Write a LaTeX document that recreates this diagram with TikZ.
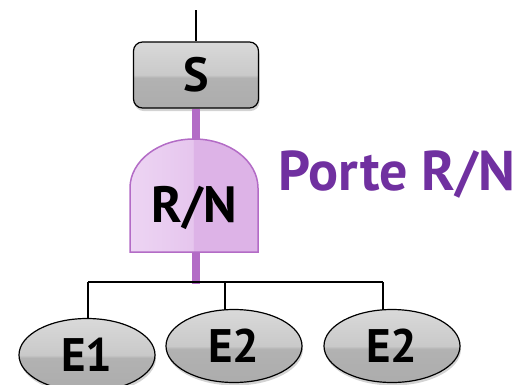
\documentclass[tikz,border=0pt]{standalone}
\usepackage{fontspec}
\setsansfont{PT Sans}
\usepackage{tikz}
\usetikzlibrary{positioning,calc,shapes.geometric,shadows}

\definecolor{portepurple}{HTML}{7030A0}
\definecolor{stempurple}{HTML}{B36CC6}
\definecolor{gatelight}{HTML}{F4E4F8}
\definecolor{gatemid}{HTML}{E6C6EE}
\definecolor{gatedark}{HTML}{DDB3E7}
\definecolor{glosstop}{HTML}{EAEAEA}
\definecolor{glossmid}{HTML}{C9C9C9}
\definecolor{glosslow}{HTML}{B2B2B2}
\definecolor{glossbot}{HTML}{A6A6A6}

\pgfdeclareverticalshading{glossgray}{100bp}{color(0bp)=(glossbot); color(48bp)=(glosslow); color(50bp)=(glossmid); color(100bp)=(glosstop)}
\pgfdeclarehorizontalshading{glosspurple}{100bp}{color(0bp)=(gatelight); color(49.5bp)=(gatemid); color(50bp)=(gatedark); color(100bp)=(gatedark)}

\begin{document}
\begin{tikzpicture}[x=1pt,y=-1pt,
			box/.style={rectangle,rounded corners=9pt,draw=black,line width=1.2pt,shading=glossgray,
				minimum width=125pt,minimum height=66pt,font=\sffamily\bfseries\fontsize{48}{48}\selectfont,
				drop shadow={shadow xshift=1pt,shadow yshift=-3pt,opacity=0.35}},
			oval/.style={ellipse,draw=black,line width=1.2pt,shading=glossgray,inner sep=0pt,
				minimum width=136pt,minimum height=73pt,font=\sffamily\bfseries\fontsize{47}{47}\selectfont,
				drop shadow={shadow xshift=1pt,shadow yshift=-3pt,opacity=0.35}},
			stem/.style={stempurple,line width=8pt},
			wire/.style={black,line width=1.2pt}]
		\useasboundingbox (0,0) rectangle (517,384);
		% gate
		\draw [draw=stempurple,line width=1.5pt,shading=glosspurple]
			(130,252) -- (130,188) arc[start angle=180,end angle=0,x radius=64pt,y radius=49pt] -- (258,252) -- cycle;
		\path 	(196,75) 	node 	(s) [box] {S}
		        (194,208) 	node 	(rn) [font=\sffamily\bfseries\fontsize{51}{51}\selectfont] {R/N}
		        (397,174) 	node 	(porte) [portepurple,font=\sffamily\bfseries\fontsize{56}{56}\selectfont] {Porte R/N}
		        (87,355) 	node 	(e1) [oval] {E1}
		        (234,346) 	node 	(e2) [oval] {E2}
		        (392,346) 	node 	(e3) [oval] {E2};
		\coordinate (top) at (196,10);
		\coordinate (gtop) at (196,139);
		\coordinate (gbot) at (196,252);
		\coordinate (bar) at (196,282);
		\coordinate (d1) at (88,282);
		\coordinate (d2) at (225,282);
		\coordinate (d3) at (383,282);
		\draw [wire] (top) -- (s);
		\draw [stem] (s.south) -- (gtop) (gbot) -- ($(bar)+(0,2)$);
		\draw [wire] (d1) -- (d3);
		\draw [wire] (d1) -- (d1 |- e1.north) (d2) -- ($(d2 |- e2.north)+(0,1)$) (d3) -- ($(d3 |- e3.north)+(0,1)$);
	\end{tikzpicture}
\end{document}
